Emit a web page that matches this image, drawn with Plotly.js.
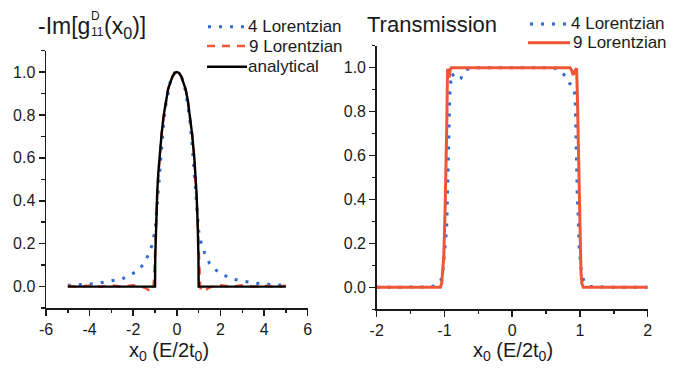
<!DOCTYPE html>
<html><head><meta charset="utf-8">
<script src="https://cdn.plot.ly/plotly-3.0.1.min.js"></script>
<style>html,body{margin:0;padding:0;background:#fff}</style>
</head><body><div id="chart" style="width:684px;height:372px"></div>
<script>
// ---- Data: left panel, -Im[g_11^D(x0)] ----
const anX = [-5, -1.0, -0.99, -0.97, -0.95, -0.9, -0.85, -0.8, -0.7, -0.6, -0.5, -0.4, -0.3, -0.2, -0.1, 0, 0.1, 0.2, 0.3, 0.4, 0.5, 0.6, 0.7, 0.8, 0.85, 0.9, 0.95, 0.97, 0.99, 1.0, 5];
const anY = [0, 0, 0.14, 0.24, 0.31, 0.44, 0.53, 0.6, 0.71, 0.8, 0.87, 0.92, 0.95, 0.98, 0.995, 1.0, 0.995, 0.98, 0.95, 0.92, 0.87, 0.8, 0.71, 0.6, 0.53, 0.44, 0.31, 0.24, 0.14, 0, 0];

const l4X = [-5, -4.5, -4, -3.5, -3, -2.5, -2, -1.75, -1.5, -1.3, -1.15, -1.05, -1.0, -0.95, -0.9, -0.85, -0.8, -0.7, -0.6, -0.5, -0.4, -0.3, -0.2, -0.1, 0, 0.1, 0.2, 0.3, 0.4, 0.5, 0.6, 0.7, 0.8, 0.85, 0.9, 0.95, 1.0, 1.05, 1.15, 1.3, 1.5, 1.75, 2, 2.5, 3, 3.5, 4, 4.5, 5];
const l4Y = [0.006, 0.008, 0.012, 0.018, 0.026, 0.036, 0.062, 0.08, 0.108, 0.15, 0.19, 0.23, 0.26, 0.32, 0.38, 0.45, 0.52, 0.66, 0.77, 0.85, 0.91, 0.955, 0.98, 0.995, 1.0, 0.995, 0.98, 0.955, 0.91, 0.85, 0.77, 0.66, 0.52, 0.45, 0.38, 0.32, 0.26, 0.23, 0.19, 0.15, 0.108, 0.08, 0.062, 0.036, 0.026, 0.018, 0.012, 0.008, 0.006];

const l9X = [-5, -4.5, -4, -3.5, -3, -2.5, -2, -1.7, -1.5, -1.35, -1.25, -1.18, -1.12, -1.07, -1.03, -1.0, -0.97, -0.94, -0.9, -0.85, -0.8, -0.7, -0.6, -0.5, -0.4, -0.3, -0.2, -0.1, 0, 0.1, 0.2, 0.3, 0.4, 0.5, 0.6, 0.7, 0.8, 0.85, 0.9, 0.94, 0.97, 1.0, 1.03, 1.07, 1.12, 1.18, 1.25, 1.35, 1.5, 1.7, 2, 2.5, 3, 3.5, 4, 4.5, 5];
const l9Y = [0.004, 0.0, 0.005, 0.0, 0.006, 0.0, 0.006, 0.002, -0.004, -0.012, -0.02, -0.024, -0.018, 0.0, 0.07, 0.17, 0.26, 0.33, 0.43, 0.52, 0.6, 0.71, 0.8, 0.87, 0.92, 0.955, 0.98, 0.997, 1.01, 0.997, 0.98, 0.955, 0.92, 0.87, 0.8, 0.71, 0.6, 0.52, 0.43, 0.33, 0.26, 0.17, 0.07, 0.0, -0.018, -0.024, -0.02, -0.012, -0.004, 0.002, 0.006, 0.0, 0.006, 0.0, 0.005, 0.0, 0.004];

// ---- Data: right panel, Transmission ----
const t4X = [-2, -1.5, -1.2, -1.1, -1.05, -1.02, -1.0, -0.985, -0.975, -0.965, -0.955, -0.945, -0.935, -0.92, -0.905, -0.89, -0.87, -0.84, -0.8, -0.76, -0.72, -0.68, -0.6, 0, 0.6, 0.7, 0.76, 0.8, 0.84, 0.88, 0.91, 0.93, 0.94, 0.95, 0.96, 0.975, 0.99, 1.02, 1.05, 1.09, 1.15, 1.5, 2];
const t4Y = [0, 0, 0.002, 0.012, 0.034, 0.08, 0.14, 0.19, 0.24, 0.29, 0.42, 0.58, 0.74, 0.89, 0.94, 0.975, 0.965, 0.955, 0.945, 0.95, 0.975, 0.99, 1.0, 1.0, 1.0, 0.99, 0.97, 0.95, 0.93, 0.92, 0.91, 0.86, 0.7, 0.52, 0.42, 0.32, 0.17, 0.08, 0.035, 0.015, 0.004, 0, 0];

const t9X = [-2, -1.1, -1.06, -1.04, -1.025, -1.01, -0.99, -0.975, -0.965, -0.958, -0.953, -0.94, -0.93, -0.915, -0.9, 0, 0.853, 0.875, 0.9, 0.925, 0.95, 0.96, 0.975, 0.99, 1.0, 1.015, 1.03, 1.05, 2];
const t9Y = [0, 0, 0, 0.02, 0.07, 0.14, 0.36, 0.55, 0.75, 0.92, 0.995, 0.965, 0.955, 0.99, 1.0, 1.0, 1.0, 0.99, 0.967, 0.985, 0.997, 0.9, 0.67, 0.4, 0.21, 0.07, 0.015, 0, 0];

// ---- Tick labels and texts ----
const leftXTicks = [-6, -4, -2, 0, 2, 4, 6];
const leftXLabels = ['-6', '-4', '-2', '0', '2', '4', '6'];
const rightXTicks = [-2, -1, 0, 1, 2];
const rightXLabels = ['-2', '-1', '0', '1', '2'];
const yTicks = [0, 0.2, 0.4, 0.6, 0.8, 1.0];
const yLabels = ['0.0', '0.2', '0.4', '0.6', '0.8', '1.0'];
const legendNames = ['4 Lorentzian', '9 Lorentzian', 'analytical'];
const leftTitleParts = ['-Im[g', 'D', '11', '(x<sub>0</sub>)]'];
const rightTitle = 'Transmission';
const xTitle = 'x<sub>0</sub> (E/2t<sub>0</sub>)';

// ---- Styling ----
const FONT = 'Arial, "Liberation Sans", sans-serif';
const BLUE = '#2d6bd2';
const ORANGE = '#ef5536';
const INK = '#1a1a1a';
const W = 684, H = 372;
const px = v => v / W;
const py = v => 1 - v / H;
const DOT = '3px,8px';
const DASH = '8px,7px';

const traces = [
  {x: l4X, y: l4Y, xaxis: 'x', yaxis: 'y', mode: 'lines', name: legendNames[0],
   line: {color: BLUE, width: 3, dash: DOT}},
  {x: l9X, y: l9Y, xaxis: 'x', yaxis: 'y', mode: 'lines', name: legendNames[1],
   line: {color: ORANGE, width: 2.5, dash: DASH}},
  {x: anX, y: anY, xaxis: 'x', yaxis: 'y', mode: 'lines', name: legendNames[2],
   line: {color: '#000', width: 2.4}},
  {x: t4X, y: t4Y, xaxis: 'x2', yaxis: 'y2', mode: 'lines', name: legendNames[0],
   line: {color: BLUE, width: 3, dash: DOT}},
  {x: t9X, y: t9Y, xaxis: 'x2', yaxis: 'y2', mode: 'lines', name: legendNames[1],
   line: {color: ORANGE, width: 3}}
];

function xax(domain, range, tickvals, ticktext, minor, anchor) {
  return {domain, range, tickmode: 'array', tickvals, ticktext, anchor, showgrid: false, zeroline: false,
    showline: true, linecolor: INK, linewidth: 1.5, ticks: 'outside', ticklen: 6, tickwidth: 1.5, tickcolor: INK,
    tickfont: {family: FONT, size: 16, color: INK},
    minor: {tickmode: 'linear', dtick: minor, tick0: 0, ticks: 'outside', ticklen: 3.5, tickwidth: 1.5, tickcolor: INK, showgrid: false},
    fixedrange: true};
}
function yax(domain, anchor) {
  return {domain, range: [-0.1, 1.1], tickmode: 'array', tickvals: yTicks, ticktext: yLabels, anchor, showgrid: false, zeroline: false,
    showline: true, linecolor: INK, linewidth: 1.5, ticks: 'outside', ticklen: 6, tickwidth: 1.5, tickcolor: INK,
    tickfont: {family: FONT, size: 16, color: INK},
    minor: {tickmode: 'linear', dtick: 0.1, tick0: 0, ticks: 'outside', ticklen: 3.5, tickwidth: 1.5, tickcolor: INK, showgrid: false},
    fixedrange: true};
}

function ann(text, x, y, size, xanchor, yanchor) {
  return {text, x: px(x), y: py(y), xref: 'paper', yref: 'paper', xanchor, yanchor, showarrow: false,
    borderpad: 0, borderwidth: 0, font: {family: FONT, size, color: INK}};
}
function key(x0, x1, y, color, width, dash) {
  return {type: 'line', xref: 'paper', yref: 'paper', x0: px(x0), x1: px(x1), y0: py(y), y1: py(y),
    line: {color, width, dash}};
}

const layout = {
  width: W, height: H,
  margin: {l: 0, r: 0, t: 0, b: 0},
  paper_bgcolor: '#fff', plot_bgcolor: '#fff',
  showlegend: false,
  xaxis: xax([px(46), px(307.7)], [-6, 6], leftXTicks, leftXLabels, 1, 'y'),
  yaxis: yax([py(308.1), py(50.5)], 'x'),
  xaxis2: xax([px(376.7), px(647.7)], [-2, 2], rightXTicks, rightXLabels, 0.5, 'y2'),
  yaxis2: yax([py(309.3), py(45.7)], 'x2'),
  shapes: [
    key(208, 246, 26.7, BLUE, 3, DOT),
    key(207, 246, 46, ORANGE, 2.5, DASH),
    key(207, 247, 66.7, '#000', 2.4, 'solid'),
    key(530, 570, 24, BLUE, 3, DOT),
    key(528, 570, 42.7, ORANGE, 3, 'solid')
  ],
  annotations: [
    ann(leftTitleParts[0], 38, 13, 23, 'left', 'top'),
    ann(leftTitleParts[1], 91, 16.5, 12, 'left', 'middle'),
    ann(leftTitleParts[2], 91, 31.5, 12, 'left', 'middle'),
    ann(leftTitleParts[3], 104, 13, 23, 'left', 'top'),
    ann(rightTitle, 367, 12, 22, 'left', 'top'),
    ann(xTitle, 169, 339, 20, 'center', 'top'),
    ann(xTitle, 513, 339, 20, 'center', 'top'),
    ann(legendNames[0], 248, 26.7, 17, 'left', 'middle'),
    ann(legendNames[1], 249, 46, 17, 'left', 'middle'),
    ann(legendNames[2], 248, 66.7, 17, 'left', 'middle'),
    ann(legendNames[0], 571, 24, 17, 'left', 'middle'),
    ann(legendNames[1], 573, 42.7, 17, 'left', 'middle')
  ]
};

Plotly.newPlot('chart', traces, layout, {displayModeBar: false, staticPlot: true});
</script></body></html>
